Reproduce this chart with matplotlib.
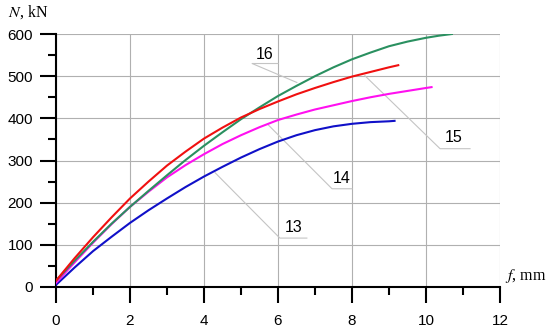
import matplotlib
matplotlib.use("Agg")
import matplotlib.pyplot as plt
from matplotlib.ticker import MultipleLocator

plt.rcParams["mathtext.fontset"] = "stix"

# deflection f (mm) vs load N (kN) for specimens 13-16
f13 = [0, 0.5, 1, 1.5, 2, 2.5, 3, 3.5, 4, 4.5, 5, 5.5, 6, 6.5, 7, 7.5, 8, 8.5, 9, 9.15]
n13 = [5, 46, 85, 119, 152, 182, 210, 237, 262, 285, 307, 327, 345, 360, 372, 381, 387, 391, 393, 394]

f14 = [0, 0.5, 1, 1.5, 2, 2.5, 3, 3.5, 4, 4.5, 5, 5.5, 6, 6.5, 7, 7.5, 8, 8.5, 9, 9.5, 10, 10.15]
n14 = [10, 58, 105, 149, 190, 226, 260, 289, 315, 339, 360, 379, 396, 409, 421, 431, 441, 450, 458, 465, 472, 474]

f15 = [0, 0.5, 1, 1.5, 2, 2.5, 3, 3.5, 4, 4.5, 5, 5.5, 6, 6.5, 7, 7.5, 8, 8.5, 9, 9.25]
n15 = [15, 68, 118, 165, 210, 250, 288, 321, 352, 378, 402, 422, 440, 457, 472, 486, 499, 510, 521, 526]

f16 = [0, 0.5, 1, 1.5, 2, 2.5, 3, 3.5, 4, 4.5, 5, 5.5, 6, 6.5, 7, 7.5, 8, 8.5, 9, 9.5, 10, 10.35, 10.7]
n16 = [15, 62, 107, 150, 190, 228, 265, 301, 335, 367, 398, 426, 453, 477, 500, 521, 540, 556, 571, 582, 591, 596, 600]

curve_labels = ["13", "14", "15", "16"]
# (label x, label y, underline x0, underline x1, underline y, curve point x, curve point y)
leaders = [
    (6.43, 140, 6.05, 6.78, 116, 4.30, 271),
    (7.73, 257, 7.46, 8.00, 233, 5.73, 385),
    (10.76, 354, 10.38, 11.19, 328, 8.35, 501),
    (5.65, 551, 5.30, 6.00, 530, 6.51, 485),
]

fig = plt.figure(figsize=(5.5, 3.31), dpi=100)
ax = fig.add_axes([56 / 550, 44 / 331, 444 / 550, 253 / 331])

ax.set_xlim(0, 12)
ax.set_ylim(0, 600)
ax.xaxis.set_major_locator(MultipleLocator(2))
ax.xaxis.set_minor_locator(MultipleLocator(1))
ax.yaxis.set_major_locator(MultipleLocator(100))
ax.yaxis.set_minor_locator(MultipleLocator(50))

ax.grid(True, which="major", color="#b0b0b0", linewidth=0.8)
ax.set_axisbelow(True)
for s in ["top", "right"]:
    ax.spines[s].set_visible(False)
for s in ["left", "bottom"]:
    ax.spines[s].set_linewidth(1.5)

ax.tick_params(which="major", length=11.5, width=1.5, labelsize=11)
ax.tick_params(which="minor", length=5.8, width=1.5)
ax.tick_params(axis="y", pad=5)
ax.tick_params(axis="x", pad=8)
for lab in ax.get_xticklabels() + ax.get_yticklabels():
    lab.set_fontfamily("Liberation Sans")

# leader lines and curve numbers
for (tx, ty, u0, u1, uy, cx, cy), name in zip(leaders, curve_labels):
    ax.plot([cx, u0, u1], [cy, uy, uy], color="#c4c4c4", linewidth=0.8, zorder=2)
    ax.text(tx, ty, name, fontsize=11.5, family="Liberation Sans",
            ha="center", va="center", zorder=4)

ax.plot(f13, n13, color="#1010c8", linewidth=1.5, zorder=3)
ax.plot(f14, n14, color="#ff10f0", linewidth=1.5, zorder=3)
ax.plot(f16, n16, color="#2a9060", linewidth=1.5, zorder=3)
ax.plot(f15, n15, color="#f01010", linewidth=1.5, zorder=3)

fig.text(8 / 550, 1 - 12 / 331, "$N$, kN", fontsize=11.5,
         family="Liberation Serif", ha="left", va="center")
fig.text(505 / 550, 1 - 276 / 331, "$f$, mm", fontsize=11.5,
         family="Liberation Serif", ha="left", va="center")

fig.savefig("out.png", dpi=100)
